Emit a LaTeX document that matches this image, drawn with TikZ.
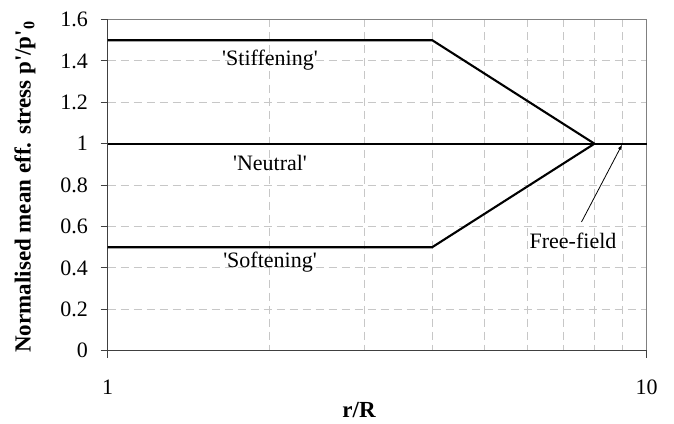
\documentclass[tikz,border=0pt]{standalone}
\usepackage{fontspec}
\setmainfont{Liberation Serif}[Ligatures=TeXOff]
\usetikzlibrary{arrows.meta}
\begin{document}
\begin{tikzpicture}[x=1pt,y=-1pt,
  gridline/.style={draw=black!22, line width=0.9pt, dash pattern=on 8pt off 5pt},
  border/.style={draw=black!50, line width=1pt},
  axisline/.style={draw=black!75, line width=1.1pt},
  dataline/.style={draw=black, line width=2.1pt, line join=miter},
  ticklbl/.style={font=\fontsize{22}{24}\selectfont, inner sep=0pt},
  txtlbl/.style={font=\fontsize{22}{24}\selectfont, inner sep=1pt},
  axlbl/.style={font=\bfseries\fontsize{23}{25}\selectfont, inner sep=0pt}]
\useasboundingbox (0,0) rectangle (674,423);
\def\XL{107.7}\def\DW{539}\def\YB{350.7}\def\YU{207}
% grid
\foreach \v in {2,...,9}
  \draw[gridline] ({\XL+\DW*log10(\v)},{\YB-\YU*1.6}) -- ({\XL+\DW*log10(\v)},\YB);
\foreach \v in {0.2,0.4,...,1.4}
  \draw[gridline] (\XL,{\YB-\YU*\v}) -- ({\XL+\DW},{\YB-\YU*\v});
% border
\draw[border] (\XL,{\YB-\YU*1.6}) -- ({\XL+\DW},{\YB-\YU*1.6}) -- ({\XL+\DW},\YB);
% axes
\draw[axisline] (\XL,{\YB-\YU*1.6}) -- (\XL,\YB) -- ({\XL+\DW},\YB);
\foreach \v in {0,0.2,...,1.6}
  \draw[axisline] ({\XL-7},{\YB-\YU*\v}) -- (\XL,{\YB-\YU*\v});
\draw[axisline] (\XL,\YB) -- (\XL,{\YB+7});
\draw[axisline] ({\XL+\DW},\YB) -- ({\XL+\DW},{\YB+7});
% tick labels
\foreach \v/\t in {0/0,0.2/0.2,0.4/0.4,0.6/0.6,0.8/0.8,1/1,1.2/1.2,1.4/1.4,1.6/1.6}
  \node[ticklbl, anchor=east] (y\t) at (88,{\YB-\YU*\v}) {\t};
\node[ticklbl] (x1) at (\XL,387) {1};
\node[ticklbl] (x10) at ({\XL+\DW},387) {10};
% axis labels
\node[axlbl] (xlab) at (359,410) {r/R};
\node[axlbl, rotate=90] (ylab) at (25,187) {Normalised mean eff. stress p'/p'\textsubscript{0}};
% data
\coordinate (s0) at (\XL,{\YB-\YU*1.5});
\coordinate (s1) at ({\XL+\DW*log10(4)},{\YB-\YU*1.5});
\coordinate (m) at ({\XL+\DW*log10(8)},{\YB-\YU*1});
\coordinate (n0) at (\XL,{\YB-\YU*1});
\coordinate (n1) at ({\XL+\DW},{\YB-\YU*1});
\coordinate (f0) at (\XL,{\YB-\YU*0.5});
\coordinate (f1) at ({\XL+\DW*log10(4)},{\YB-\YU*0.5});
\draw[dataline] (s0) -- (s1) -- (m);
\draw[dataline] (f0) -- (f1) -- (m);
\draw[dataline] (n0) -- (n1);
% labels
\node[txtlbl] (stf) at (270,60) {'Stiffening'};
\node[txtlbl] (neu) at (270,163) {'Neutral'};
\node[txtlbl] (sof) at (270,262) {'Softening'};
\node[txtlbl] (ff) at (573,241) {Free-field};
\coordinate (fftip) at ({\XL+\DW*log10(9)},{\YB-\YU*1+1});
\coordinate (fftail) at (581.5,222);
\draw[line width=0.8pt, -{Latex[length=5pt,width=4pt]}] (fftail) -- (fftip);
\end{tikzpicture}
\end{document}
